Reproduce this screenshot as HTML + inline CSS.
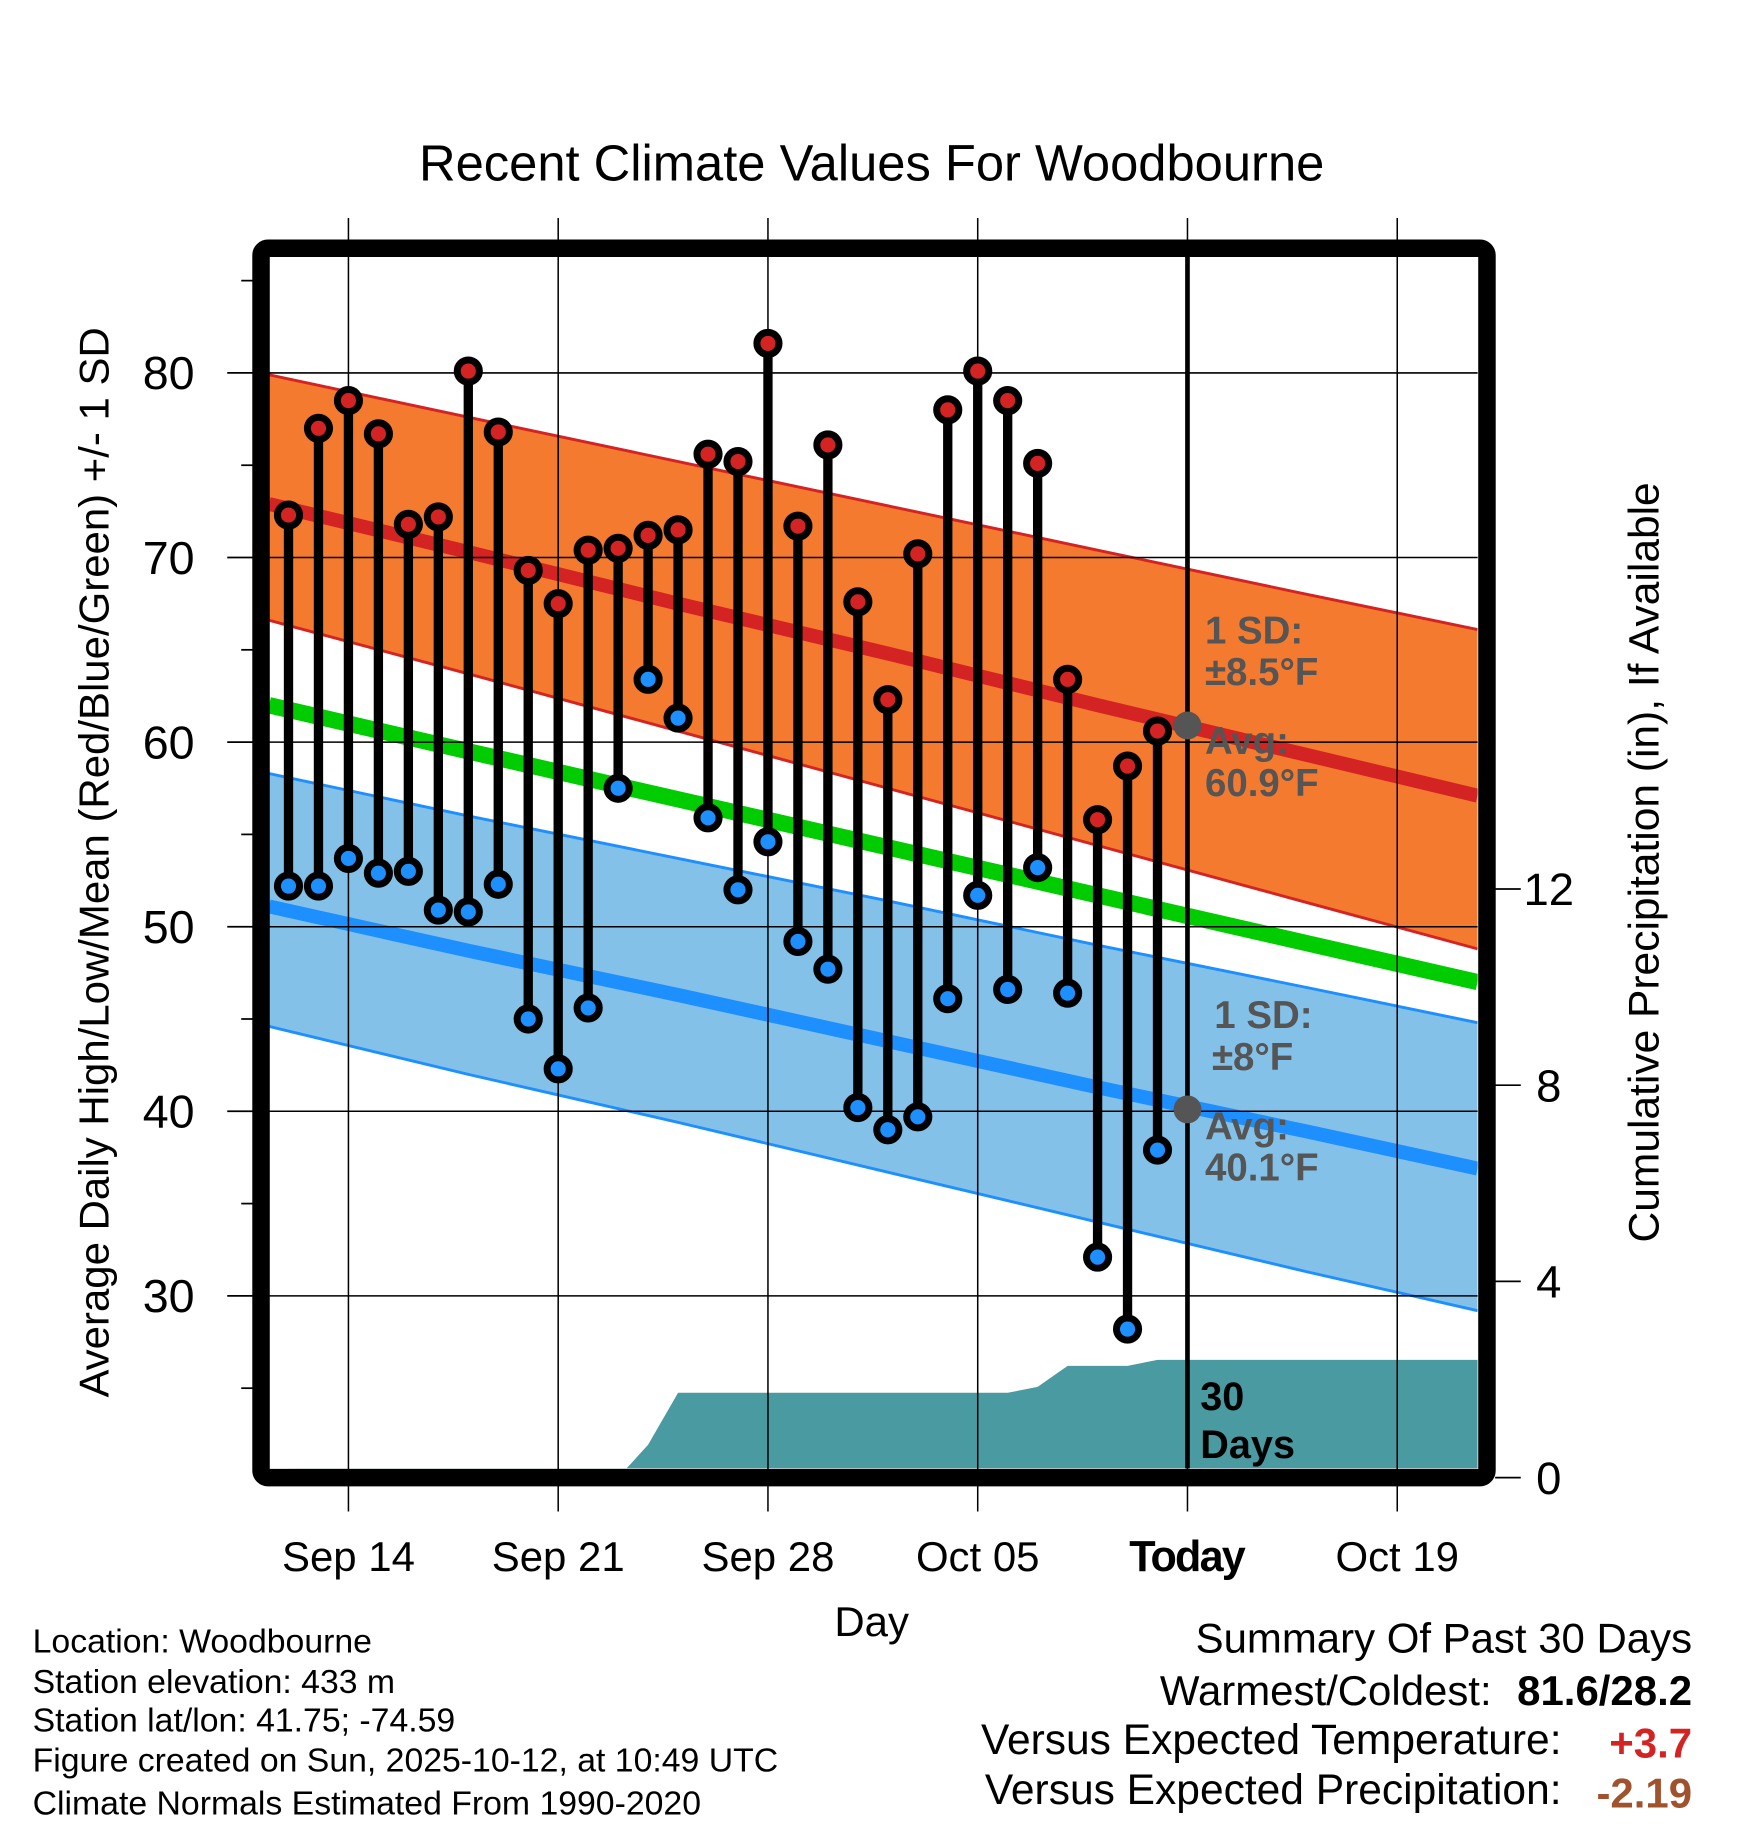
<!DOCTYPE html>
<html><head><meta charset="utf-8"><style>
html,body{margin:0;padding:0;background:#fff}
svg{display:block;font-family:"Liberation Sans",Arial,sans-serif}
</style></head><body>
<svg id="chart" width="1748" height="1828" viewBox="0 0 1500 1568.6" xmlns="http://www.w3.org/2000/svg">
<text x="748" y="155" font-size="43.5" text-anchor="middle">Recent Climate Values For Woodbourne</text>
<g id="layers"></g>
</svg>
<script>
// ---- data ----
const dayLabels = ["Sep 12","Sep 13","Sep 14","Sep 15","Sep 16","Sep 17","Sep 18","Sep 19","Sep 20","Sep 21","Sep 22","Sep 23","Sep 24","Sep 25","Sep 26","Sep 27","Sep 28","Sep 29","Sep 30","Oct 01","Oct 02","Oct 03","Oct 04","Oct 05","Oct 06","Oct 07","Oct 08","Oct 09","Oct 10","Oct 11"];
const dayOffsets = [-2,-1,0,1,2,3,4,5,6,7,8,9,10,11,12,13,14,15,16,17,18,19,20,21,22,23,24,25,26,27];
const highs = [72.3,77.0,78.5,76.7,71.8,72.2,80.1,76.8,69.3,67.5,70.4,70.5,71.2,71.5,75.6,75.2,81.6,71.7,76.1,67.6,62.3,70.2,78.0,80.1,78.5,75.1,63.4,55.8,58.7,60.6];
const lows = [52.2,52.2,53.7,52.9,53.0,50.9,50.8,52.3,45.0,42.3,45.6,57.5,63.4,61.3,55.9,52.0,54.6,49.2,47.7,40.2,39.0,39.7,46.1,51.7,46.6,53.2,46.4,32.1,28.2,37.9];
const precip = [0,0,0,0,0,0,0,0,0,0,0,0,0.67,1.73,1.73,1.73,1.73,1.73,1.73,1.73,1.73,1.73,1.73,1.73,1.73,1.85,2.28,2.28,2.28,2.40];
const normDays = [-2.65,4,11,18,25,32,37.68];
const normHighMean = [72.9,70.3,67.5,64.8,62.0,59.3,57.1];
const normHighUpper = [79.9,77.6,75.2,72.8,70.4,68.0,66.1];
const normHighLower = [66.6,63.7,60.6,57.5,54.4,51.3,48.8];
const normMean = [62.0,59.5,56.9,54.3,51.7,49.1,47.0];
const normLowMean = [51.1,48.7,46.3,43.8,41.3,38.9,36.9];
const normLowUpper = [58.3,56.0,53.7,51.4,49.0,46.7,44.8];
const normLowLower = [44.6,42.0,39.4,36.7,34.0,31.3,29.2];
const yTicks = [30,40,50,60,70,80];
const yMinorTicks = [25,35,45,55,65,75,85];
const pTicks = [0,4,8,12];
const xTickDays = [0,7,14,21,28,35];
const xTickLabels = ["Sep 14","Sep 21","Sep 28","Oct 05","Today","Oct 19"];
const todayDay = 28;
const todayHighAvg = 60.9, todayLowAvg = 40.1;

// ---- axes ----
const L=231,R=1268,T=220,B=1260;
const X = d => 299 + d*180/7;
const Y = v => 320 + (80-v)*15.84;
const P = p => 1268 - p*42.1;
const NS="http://www.w3.org/2000/svg";
const g=document.getElementById('layers');
function mk(tag,attrs,parent){const e=document.createElementNS(NS,tag);for(const k in attrs)e.setAttribute(k,attrs[k]);(parent||g).appendChild(e);return e;}
function txt(s,attrs){const e=mk('text',attrs);e.textContent=s;return e;}

const defs=mk('defs',{});const cp=mk('clipPath',{id:'pc'},defs);mk('rect',{x:L,y:T,width:R-L,height:B-T},cp);
const plot=mk('g',{'clip-path':'url(#pc)'});

function band(up,lo,fill,stroke,name){
  let pts=normDays.map((d,i)=>X(d)+','+Y(up[i]));
  pts=pts.concat(normDays.slice().reverse().map((d,i)=>X(d)+','+Y(lo[lo.length-1-i])));
  const p=mk('polygon',{points:pts.join(' '),fill:fill},plot);
  
  
  [up,lo].forEach(a=>{const l=mk('polyline',{points:normDays.map((d,i)=>X(d)+','+Y(a[i])).join(' '),fill:'none',stroke:stroke,'stroke-width':2.5},plot);
    
    });
}
function line(a,stroke,w,name){const l=mk('polyline',{points:normDays.map((d,i)=>X(d)+','+Y(a[i])).join(' '),fill:'none',stroke:stroke,'stroke-width':w},plot);
  
  }

band(normHighUpper,normHighLower,'#f47a2f','#d42323','normal-high-band');
band(normLowUpper,normLowLower,'#84c1e8','#1e8fff','normal-low-band');
line(normHighMean,'#d42323',12,'normal-high-mean');
line(normMean,'#00cc00',14,'normal-mean-line');
line(normLowMean,'#1e8fff',12,'normal-low-mean');

let pp=[X(dayOffsets[0])+','+B];
dayOffsets.forEach((d,i)=>pp.push(X(d)+','+P(precip[i])));
pp.push(R+','+P(precip[precip.length-1]));pp.push(R+','+B);
const pa=mk('polygon',{points:pp.join(' '),fill:'#4a9aa1'},plot);



yTicks.forEach(v=>{const l=mk('line',{x1:L,x2:R,y1:Y(v),y2:Y(v),stroke:'#000','stroke-width':1.3});
  
  });
xTickDays.forEach(d=>{const l=mk('line',{x1:X(d),x2:X(d),y1:187,y2:1297,stroke:'#000','stroke-width':1.3});
  
  });
const tl=mk('line',{x1:X(todayDay),x2:X(todayDay),y1:T,y2:B,stroke:'#000','stroke-width':4});



dayOffsets.forEach((d,i)=>{
  const s=mk('line',{x1:X(d),x2:X(d),y1:Y(highs[i]),y2:Y(lows[i]),stroke:'#000','stroke-width':8});
  
  
});
dayOffsets.forEach((d,i)=>{
  const h=mk('circle',{cx:X(d),cy:Y(highs[i]),r:9.5,fill:'#d42323',stroke:'#000','stroke-width':6});
  
  
  const lo=mk('circle',{cx:X(d),cy:Y(lows[i]),r:9.5,fill:'#1e8fff',stroke:'#000','stroke-width':6});
  
  
});
[todayHighAvg,todayLowAvg].forEach(v=>{const c=mk('circle',{cx:X(todayDay),cy:Y(v),r:12,fill:'#555'});
  
  });

const fr=mk('rect',{x:224,y:213,width:1052,height:1055,rx:6,fill:'none',stroke:'#000','stroke-width':15});



yTicks.forEach(v=>{const l=mk('line',{x1:195,x2:217,y1:Y(v),y2:Y(v),stroke:'#000','stroke-width':1.5});
  
  
  const t=txt(String(v),{x:167,y:Y(v)+14,'font-size':40,'text-anchor':'end'});
  
  });
yMinorTicks.forEach(v=>{const l=mk('line',{x1:207,x2:217,y1:Y(v),y2:Y(v),stroke:'#000','stroke-width':1.5});
  
  });
pTicks.forEach(p=>{const l=mk('line',{x1:1283,x2:1305,y1:P(p),y2:P(p),stroke:'#000','stroke-width':1.5});
  
  
  const t=txt(String(p),{x:1329,y:P(p)+14,'font-size':39,'text-anchor':'middle'});
  
  });
xTickDays.forEach((d,i)=>{const t=txt(xTickLabels[i],{x:X(d),y:1348,'font-size':36,'text-anchor':'middle'});
  if(d===todayDay){t.setAttribute('font-size','37');t.setAttribute('font-weight','bold');t.setAttribute('textLength','100');}
  
  });

function ann(s,x,y,name,extra){const t=txt(s,Object.assign({x:x,y:y,'font-size':33,'font-weight':'bold',fill:'#555'},extra||{}));
  
  }
ann('1 SD:',1034,552,'high-sd-label');
ann('±8.5°F',1034,588,'high-sd-value');
ann('Avg:',1034,647,'high-avg-label');
ann(todayHighAvg+'°F',1034,683,'high-avg-value');
ann('1 SD:',1042,882,'low-sd-label');
ann('±8°F',1040,918,'low-sd-value');
ann('Avg:',1034,978,'low-avg-label');
ann(todayLowAvg+'°F',1034,1013,'low-avg-value');
ann('30',1030,1210,'precip-days-label',{fill:'#000','font-size':34});
ann('Days',1030,1251,'precip-days-label2',{fill:'#000','font-size':34});
</script>
<svg style="position:absolute;left:0;top:0" width="1748" height="1828" viewBox="0 0 1500 1568.6" xmlns="http://www.w3.org/2000/svg" font-family="Liberation Sans, Arial, sans-serif">
<text x="748" y="1404" font-size="36" text-anchor="middle">Day</text>
<text transform="translate(93,740) rotate(-90)" font-size="36" text-anchor="middle">Average Daily High/Low/Mean (Red/Blue/Green) +/- 1 SD</text>
<text transform="translate(1423,740) rotate(-90)" font-size="36.5" text-anchor="middle">Cumulative Precipitation (in), If Available</text>
<g font-size="29">
<text x="28" y="1418">Location: Woodbourne</text>
<text x="28" y="1453">Station elevation: 433 m</text>
<text x="28" y="1486">Station lat/lon: 41.75; -74.59</text>
<text x="28" y="1520">Figure created on Sun, 2025-10-12, at 10:49 UTC</text>
<text x="28" y="1557">Climate Normals Estimated From 1990-2020</text>
</g>
<g font-size="36">
<text x="1452" y="1418" text-anchor="end">Summary Of Past 30 Days</text>
<text x="1280" y="1463" text-anchor="end">Warmest/Coldest:</text>
<text x="1452" y="1463" text-anchor="end" font-weight="bold">81.6/28.2</text>
<text x="1340" y="1505" text-anchor="end" font-size="36.5">Versus Expected Temperature:</text>
<text x="1452" y="1508" text-anchor="end" font-weight="bold" fill="#d42323">+3.7</text>
<text x="1340" y="1548" text-anchor="end" font-size="36.5">Versus Expected Precipitation:</text>
<text x="1452" y="1551" text-anchor="end" font-weight="bold" fill="#a0522d">-2.19</text>
</g>
</svg>
</body></html>
